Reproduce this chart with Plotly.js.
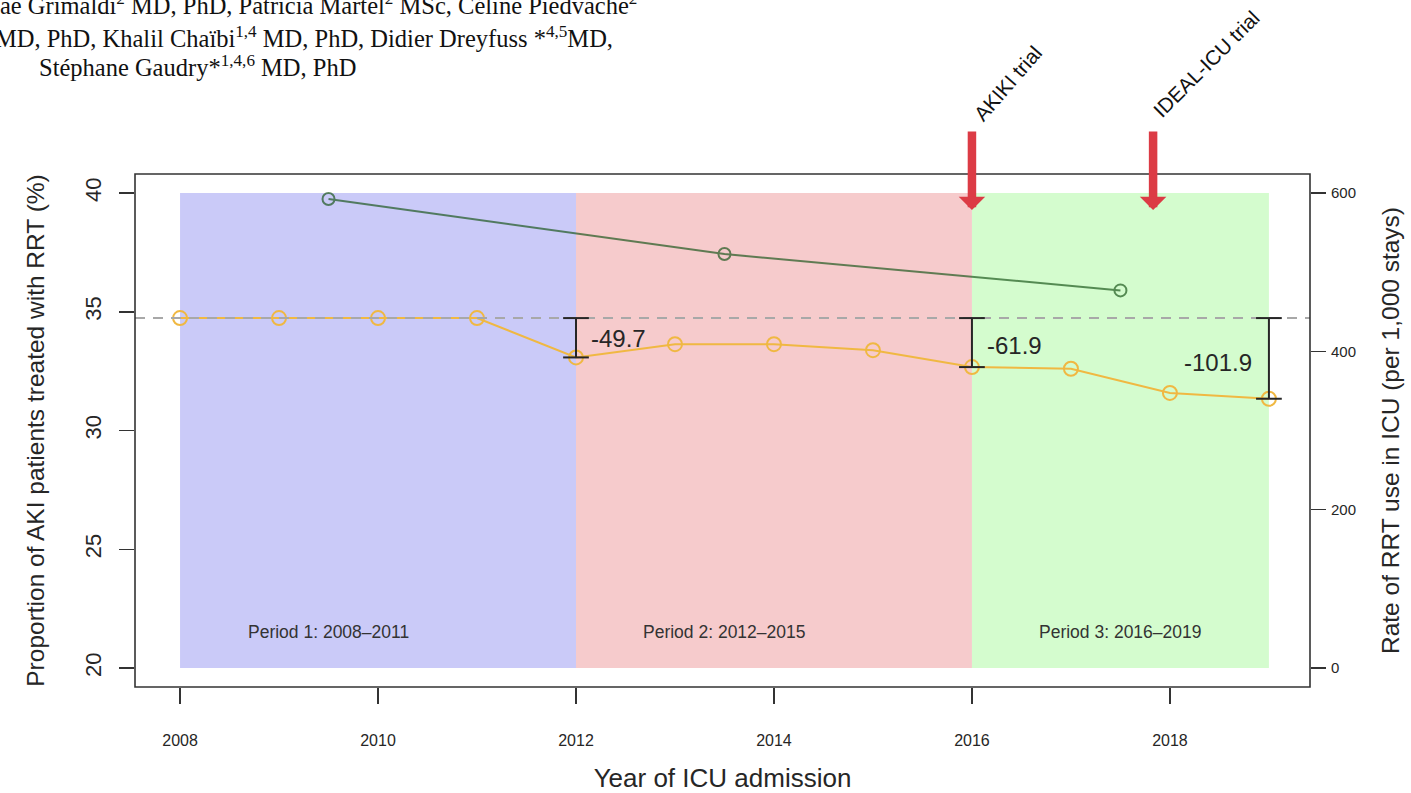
<!DOCTYPE html>
<html>
<head>
<meta charset="utf-8">
<script src="https://cdn.plot.ly/plotly-3.0.1.min.js"></script>
<style>html,body{margin:0;padding:0;background:#fff;}#chart{width:1411px;height:793px;}</style>
</head>
<body>
<div id="chart"></div>
<script>
// ---- data ----
const years = [2008, 2009, 2010, 2011, 2012, 2013, 2014, 2015, 2016, 2017, 2018, 2019];
const rrtRate = [442, 442, 442, 442, 392.3, 409, 409, 401.5, 380.1, 378, 347.5, 340.1]; // per 1,000 stays (right axis)
const periodMid = [2009.5, 2013.5, 2017.5];
const akiProportion = [39.75, 37.43, 35.9]; // % (left axis)
const baselineRate = 442;
const periods = [
  {from: 2008, to: 2012, label: 'Period 1: 2008\u20132011', color: 'rgb(202,202,248)'},
  {from: 2012, to: 2016, label: 'Period 2: 2012\u20132015', color: 'rgb(246,203,204)'},
  {from: 2016, to: 2019, label: 'Period 3: 2016\u20132019', color: 'rgb(212,252,206)'}
];
const diffYears = [2012, 2016, 2019];
const diffValues = [-49.7, -61.9, -101.9];
const trials = [{year: 2016, name: 'AKIKI trial'}, {year: 2017.83, name: 'IDEAL-ICU trial'}];
const authorLines = [
  'ae Grimaldi<sup>2</sup> MD, PhD, Patricia Martel<sup>2</sup> MSc, C\u00e9line Piedvache<sup>2</sup>',
  'MD, PhD, Khalil Cha\u00efbi<sup>1,4</sup> MD, PhD, Didier Dreyfuss *<sup>4,5</sup>MD,',
  'St\u00e9phane Gaudry*<sup>1,4,6</sup> MD, PhD'
];

// ---- layout helpers ----
const L = 135, R = 1310, T = 174, B = 687;
const px = v => (v - L) / (R - L);
const py = v => (B - v) / (B - T);
const sans = 'Liberation Sans, Arial, Helvetica, sans-serif';
const ink = '#262626';

const traces = [
  {x: periodMid, y: akiProportion, yaxis: 'y', mode: 'lines+markers', type: 'scatter',
   opacity: 0.68,
   line: {color: 'rgb(25,85,25)', width: 2},
   marker: {symbol: 'circle-open', size: 12, color: 'rgb(25,85,25)', line: {width: 2}},
   hoverinfo: 'skip', showlegend: false},
  {x: years, y: rrtRate, yaxis: 'y2', mode: 'lines+markers', type: 'scatter',
   line: {color: '#f0b842', width: 2},
   marker: {symbol: 'circle-open', size: 14, color: '#f0b842', line: {width: 2}},
   hoverinfo: 'skip', showlegend: false}
];

const shapes = [];
periods.forEach(p => shapes.push({type: 'rect', xref: 'x', yref: 'y', x0: p.from, x1: p.to, y0: 20, y1: 40,
  fillcolor: p.color, line: {width: 0}, layer: 'below'}));
shapes.push({type: 'line', xref: 'paper', yref: 'y2', x0: 0, x1: 1, y0: baselineRate, y1: baselineRate,
  line: {color: '#a8a8a8', width: 2, dash: '10px,8px'}, layer: 'above'});
diffYears.forEach((yr, i) => {
  const v = baselineRate + diffValues[i];
  shapes.push({type: 'line', xref: 'x', yref: 'y2', x0: yr, x1: yr, y0: baselineRate, y1: v, line: {color: ink, width: 2}});
  shapes.push({type: 'line', xref: 'x', yref: 'y2', x0: yr - 0.13, x1: yr + 0.13, y0: baselineRate, y1: baselineRate, line: {color: ink, width: 2}});
  shapes.push({type: 'line', xref: 'x', yref: 'y2', x0: yr - 0.13, x1: yr + 0.13, y0: v, y1: v, line: {color: ink, width: 2}});
});
shapes.push({type: 'rect', xref: 'paper', yref: 'paper', x0: 0, x1: 1, y0: 0, y1: 1, line: {color: '#333', width: 1.6}, fillcolor: 'rgba(0,0,0,0)'});

const annotations = [];
periods.forEach((p, i) => annotations.push({xref: 'x', yref: 'y', x: periodMid[i], y: 21.5, text: p.label, showarrow: false,
  font: {family: sans, size: 17.5, color: '#333'}}));
// difference labels
annotations.push({xref: 'x', yref: 'y2', x: 2012.13, y: 416.5, xanchor: 'left', text: String(diffValues[0]), showarrow: false, font: {family: sans, size: 24, color: ink}});
annotations.push({xref: 'x', yref: 'y2', x: 2016.13, y: 408, xanchor: 'left', text: String(diffValues[1]), showarrow: false, font: {family: sans, size: 24, color: ink}});
annotations.push({xref: 'x', yref: 'y2', x: 2018.85, y: 386.5, xanchor: 'right', text: String(diffValues[2]), showarrow: false, font: {family: sans, size: 24, color: ink}});
// trial arrows
trials.forEach(t => annotations.push({xref: 'x', yref: 'paper', x: t.year, y: py(210), text: '', showarrow: true,
  ax: 0, ay: -80, arrowhead: 1, arrowsize: 0.52, arrowwidth: 8.5, arrowcolor: '#dc3b45', standoff: 0}));
annotations.push({xref: 'paper', yref: 'paper', x: px(966), y: py(128), xanchor: 'left', yanchor: 'bottom', textangle: -49,
  text: trials[0].name, showarrow: false, font: {family: sans, size: 20.5, color: '#111'}});
annotations.push({xref: 'paper', yref: 'paper', x: px(1146), y: py(124), xanchor: 'left', yanchor: 'bottom', textangle: -45,
  text: trials[1].name, showarrow: false, font: {family: sans, size: 20.5, color: '#111'}});
// author text (top-left)
const serif = 'Liberation Serif, Times New Roman, serif';
annotations.push({xref: 'paper', yref: 'paper', x: px(-2), y: py(4), xanchor: 'left', yanchor: 'middle', text: authorLines[0], showarrow: false, font: {family: serif, size: 24.5, color: '#111'}});
annotations.push({xref: 'paper', yref: 'paper', x: px(-7), y: py(37), xanchor: 'left', yanchor: 'middle', text: authorLines[1], showarrow: false, font: {family: serif, size: 24.5, color: '#111'}});
annotations.push({xref: 'paper', yref: 'paper', x: px(37), y: py(66), xanchor: 'left', yanchor: 'middle', text: authorLines[2], showarrow: false, font: {family: serif, size: 24.5, color: '#111'}});

const layout = {
  width: 1411, height: 793,
  margin: {l: L, r: 1411 - R, t: T, b: 793 - B, pad: 0},
  paper_bgcolor: '#fff', plot_bgcolor: '#fff',
  showlegend: false,
  font: {family: sans, color: ink},
  xaxis: {range: [2007.545, 2019.415], tick0: 2008, dtick: 2, ticks: 'outside', ticklen: 16, tickwidth: 1.5, tickcolor: '#333',
    showgrid: false, zeroline: false, showline: false, ticklabelstandoff: 23,
    tickfont: {family: sans, size: 16, color: ink},
    title: {text: 'Year of ICU admission', font: {family: sans, size: 26, color: ink}, standoff: 20}},
  yaxis: {range: [19.2, 40.8], tickvals: [20, 25, 30, 35, 40], ticks: 'outside', ticklen: 15, tickwidth: 1.5, tickcolor: '#333',
    showgrid: false, zeroline: false, showline: false, tickangle: -90, ticklabelstandoff: 9,
    tickfont: {family: sans, size: 22, color: ink},
    title: {text: 'Proportion of AKI patients treated with RRT (%)', font: {family: sans, size: 24.5, color: ink}, standoff: 29}},
  yaxis2: {range: [-24, 624], tickvals: [0, 200, 400, 600], overlaying: 'y', side: 'right', ticks: 'outside', ticklen: 15, tickwidth: 1.5, tickcolor: '#333',
    showgrid: false, zeroline: false, showline: false, ticklabelstandoff: 2,
    tickfont: {family: sans, size: 15, color: ink},
    title: {text: 'Rate of RRT use in ICU (per 1,000 stays)', font: {family: sans, size: 24.5, color: ink}, standoff: 26}},
  shapes: shapes,
  annotations: annotations
};

Plotly.newPlot('chart', traces, layout, {displayModeBar: false, staticPlot: true});
</script>
</body>
</html>
